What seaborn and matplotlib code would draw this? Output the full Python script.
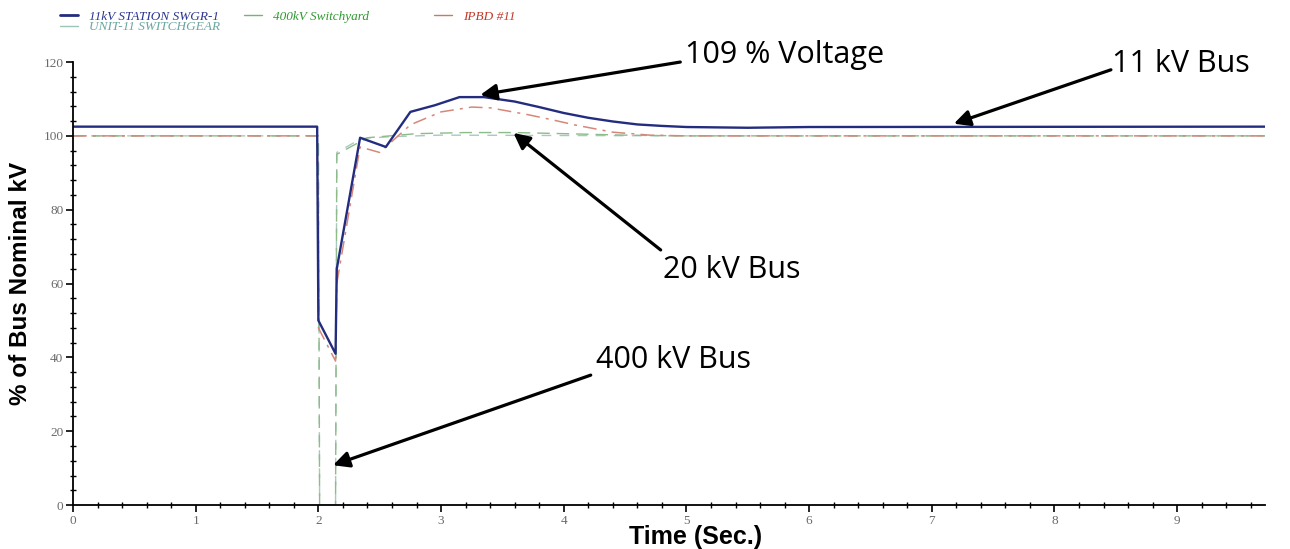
import numpy as np
import pandas as pd
import matplotlib
matplotlib.use("Agg")
import matplotlib.pyplot as plt
import seaborn as sns
from matplotlib.ticker import MultipleLocator

# --- transient voltage traces (% of bus nominal kV) ---
t_11kv = [0.0, 1.99, 2.0, 2.14, 2.15, 2.34, 2.55, 2.75, 2.95, 3.15, 3.35,
          3.6, 3.8, 4.0, 4.2, 4.4, 4.6, 4.8, 5.0, 5.5, 6.0, 9.72]
v_11kv = [102.5, 102.5, 50.0, 41.0, 64.0, 99.5, 97.0, 106.5, 108.3, 110.5, 110.5,
          109.3, 107.8, 106.2, 104.9, 103.9, 103.1, 102.7, 102.4, 102.2, 102.4, 102.5]

t_400kv = [0.0, 2.0, 2.01, 2.14, 2.15, 2.4, 2.8, 3.2, 3.6, 4.0, 4.5, 5.0, 9.72]
v_400kv = [100.0, 100.0, 0.0, 0.0, 95.0, 99.5, 100.6, 100.9, 100.9, 100.6, 100.2, 100.0, 100.0]

t_ipbd = [0.0, 1.99, 2.0, 2.14, 2.15, 2.34, 2.5, 2.75, 3.0, 3.25, 3.4,
          3.7, 3.9, 4.1, 4.4, 4.7, 5.0, 9.72]
v_ipbd = [100.0, 100.0, 48.0, 39.0, 60.0, 97.0, 95.5, 103.0, 106.5, 107.8, 107.6,
          105.8, 104.4, 102.9, 101.0, 100.2, 100.0, 100.0]

t_unit11 = [0.0, 2.0, 2.01, 2.14, 2.15, 2.35, 2.6, 3.0, 4.0, 5.0, 9.72]
v_unit11 = [100.0, 100.0, 0.0, 0.0, 95.5, 99.3, 99.8, 100.2, 100.1, 100.0, 100.0]

series_names = ["11kV STATION SWGR-1", "UNIT-11 SWITCHGEAR", "400kV Switchyard", "IPBD #11"]

x_ticks = [0, 1, 2, 3, 4, 5, 6, 7, 8, 9]
y_ticks = [0, 20, 40, 60, 80, 100, 120]

sns.set_style("ticks")
plt.rcParams["font.family"] = ["DejaVu Sans"]

fig = plt.figure(figsize=(12.9, 5.49), dpi=100)
ax = fig.add_axes([0.0566, 0.080, 0.9244, 0.807])

traces = {
    "11kV STATION SWGR-1": (t_11kv, v_11kv, "#232c7e", "-", 1.7),
    "400kV Switchyard": (t_400kv, v_400kv, "#8dbb8a", (0, (9, 5)), 1.0),
    "IPBD #11": (t_ipbd, v_ipbd, "#d6877a", (0, (9, 4, 2, 4)), 1.1),
    "UNIT-11 SWITCHGEAR": (t_unit11, v_unit11, "#a9c9bd", (0, (7, 6)), 1.0),
}
draw_order = ["UNIT-11 SWITCHGEAR", "400kV Switchyard", "IPBD #11", "11kV STATION SWGR-1"]
for name in draw_order:
    t, v, col, ls, lw = traces[name]
    df = pd.DataFrame({"t": t, "v": v})
    sns.lineplot(data=df, x="t", y="v", ax=ax, color=col, linewidth=lw,
                 estimator=None, sort=False, legend=False)
    ax.lines[-1].set_linestyle(ls)

ax.set_xlim(0, 9.72)
ax.set_ylim(0, 120)
ax.set_xticks(x_ticks)
ax.set_yticks(y_ticks)
ax.xaxis.set_minor_locator(MultipleLocator(0.2))
ax.yaxis.set_minor_locator(MultipleLocator(4))
sns.despine(ax=ax)
for sp in ("left", "bottom"):
    ax.spines[sp].set_linewidth(1.3)
    ax.spines[sp].set_color("black")
ax.tick_params(axis="both", which="major", direction="out", length=5, width=1.2,
               color="black", labelsize=9.5, labelcolor="#6a6a6a", pad=2)
ax.tick_params(axis="both", which="minor", direction="inout", length=4, width=1.0, color="black")
for lab in ax.get_xticklabels() + ax.get_yticklabels():
    lab.set_family("Liberation Serif")

ax.set_xlabel("Time (Sec.)", fontsize=18, fontweight="bold", family="Liberation Sans",
              va="top", color="black")
ax.xaxis.set_label_coords(0.522, -0.046)
ax.set_ylabel("% of Bus Nominal kV", fontsize=17.5, fontweight="bold", family="Liberation Sans",
              color="black")
ax.yaxis.set_label_coords(-0.034, 0.5)

# legends across the top
leg_font = {"family": "Liberation Serif", "style": "italic", "size": 9.5}
legend_groups = [
    (["11kV STATION SWGR-1", "UNIT-11 SWITCHGEAR"], 0.040),
    (["400kV Switchyard"], 0.183),
    (["IPBD #11"], 0.330),
]
legend_text_colors = {
    "11kV STATION SWGR-1": "#2b3590",
    "UNIT-11 SWITCHGEAR": "#6aa7a0",
    "400kV Switchyard": "#2f9a2f",
    "IPBD #11": "#c0392b",
}
legend_handle_colors = {
    "11kV STATION SWGR-1": "#232c7e",
    "UNIT-11 SWITCHGEAR": "#9cc4b8",
    "400kV Switchyard": "#7ab07a",
    "IPBD #11": "#d07565",
}
for names, xpos in legend_groups:
    hs = [plt.Line2D([], [], color=legend_handle_colors[n],
                     lw=2.0 if n.startswith("11kV") else 1.0) for n in names]
    leg = fig.legend(hs, names, loc="upper left", bbox_to_anchor=(xpos, 0.995),
                     frameon=False, prop=leg_font, handlelength=1.4, handletextpad=0.8,
                     labelspacing=-0.15, borderaxespad=0.2)
    for txt, n in zip(leg.get_texts(), names):
        txt.set_color(legend_text_colors[n])

# callouts
ann_font = dict(fontsize=22, family="Open Sans", color="black")
arrow = dict(arrowstyle="-|>", color="black", lw=2.3, mutation_scale=24,
             shrinkA=0, shrinkB=0)
callouts = [
    ("109 % Voltage", (3.32, 111.1), (4.95, 120.0), (4.99, 121.8)),
    ("11 kV Bus", (7.18, 103.3), (8.46, 117.9), (8.47, 119.6)),
    ("20 kV Bus", (3.59, 100.8), (4.79, 69.1), (4.81, 63.7)),
    ("400 kV Bus", (2.12, 10.8), (4.22, 35.2), (4.26, 39.3)),
]
for label, tip, tail, txt_pos in callouts:
    ax.annotate("", xy=tip, xytext=tail, xycoords="data", textcoords="data",
                arrowprops=arrow, annotation_clip=False)
    ax.text(txt_pos[0], txt_pos[1], label, ha="left", va="center",
            clip_on=False, **ann_font)

fig.savefig("out.png", dpi=100)
